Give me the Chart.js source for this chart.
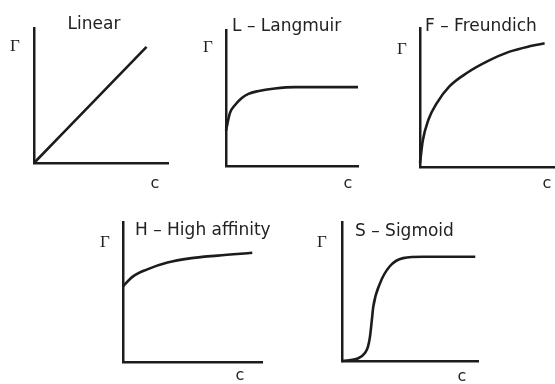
<!DOCTYPE html>
<html>
<head>
<meta charset="utf-8">
<script src="https://cdn.jsdelivr.net/npm/chart.js@4.4.1/dist/chart.umd.min.js"></script>
<style>
  body { margin: 0; width: 555px; height: 384px; overflow: hidden; background: #fff; position: relative; }
  canvas { position: absolute; left: 0; top: 0; }
</style>
</head>
<body>
<script>
// Isotherm shapes: concentration c vs adsorbed amount Γ (arbitrary units, 0-100)
const linearC = [0, 84];
const linearG = [0, 86];

const langmuirC = [0, 3, 7, 12, 17, 24, 37, 52, 75, 100];
const langmuirG = [26, 39, 45, 50, 53, 55, 57, 58, 58, 58];

const freundlichC = [0, 2, 6, 12, 21, 34, 48, 64, 79, 89];
const freundlichG = [3, 19, 34, 46, 58, 68, 76, 83, 87, 89];

const highC = [0, 7, 17, 32, 48, 68, 93];
const highG = [54, 61, 66, 71, 74, 76, 78];

const sigmoidC = [0, 12, 17, 19, 20.5, 22, 23, 28, 35, 45, 60, 98];
const sigmoidG = [0, 2, 6, 10, 17, 30, 39, 56, 68, 74, 75, 75];

const titles = ['Linear', 'L \u2013 Langmuir', 'F \u2013 Freundich', 'H \u2013 High affinity', 'S \u2013 Sigmoid'];

const W = 580, H = 384;
const ink = '#1c1c1c';

// axis box [left, top, right, bottom] and label anchors for each small plot
const panels = [
  { c: linearC, g: linearG, title: titles[0], box: [34, 28, 168, 163], titleAt: [94, 25, 'center'], gammaAt: [15, 47], cAt: [155, 184] },
  { c: langmuirC, g: langmuirG, title: titles[1], box: [226, 30, 358, 166], titleAt: [232, 27, 'left'], gammaAt: [208, 48], cAt: [348, 184] },
  { c: freundlichC, g: freundlichG, title: titles[2], box: [420, 28, 560, 167], titleAt: [425, 27, 'left'], gammaAt: [402, 50], cAt: [547, 184] },
  { c: highC, g: highG, title: titles[3], box: [123, 222, 262, 362], titleAt: [135, 231, 'left'], gammaAt: [105, 243], cAt: [240, 376] },
  { c: sigmoidC, g: sigmoidG, title: titles[4], box: [342, 222, 478, 361], titleAt: [355, 232, 'left'], gammaAt: [322, 243], cAt: [462, 377] }
];

const labelPlugin = {
  id: 'isoLabels',
  afterDraw(chart, args, opts) {
    const ctx = chart.ctx;
    ctx.save();
    ctx.fillStyle = '#222';
    ctx.textBaseline = 'middle';
    ctx.font = '17px "DejaVu Sans"';
    ctx.textAlign = opts.titleAt[2];
    ctx.fillText(opts.title, opts.titleAt[0], opts.titleAt[1]);
    ctx.textAlign = 'center';
    ctx.font = '17px "Liberation Serif"';
    ctx.fillText('\u0393', opts.gammaAt[0], opts.gammaAt[1]);
    ctx.font = '16px "DejaVu Sans"';
    ctx.fillText('c', opts.cAt[0], opts.cAt[1]);
    ctx.restore();
  }
};

panels.forEach(function (p) {
  const canvas = document.createElement('canvas');
  canvas.width = W;
  canvas.height = H;
  canvas.style.width = W + 'px';
  canvas.style.height = H + 'px';
  document.body.appendChild(canvas);

  const axis = {
    type: 'linear',
    min: 0,
    max: 100,
    grid: { display: false, drawTicks: false },
    ticks: { display: false },
    border: { display: true, color: ink, width: 2.5 }
  };

  new Chart(canvas.getContext('2d'), {
    type: 'line',
    data: {
      datasets: [{
        data: p.c.map((c, i) => ({ x: c, y: p.g[i] })),
        borderColor: ink,
        borderWidth: 2.6,
        pointRadius: 0,
        cubicInterpolationMode: 'monotone',
        clip: 6
      }]
    },
    options: {
      responsive: false,
      animation: false,
      events: [],
      layout: {
        padding: { left: p.box[0], top: p.box[1], right: W - p.box[2], bottom: H - p.box[3] }
      },
      scales: { x: axis, y: Object.assign({}, axis) },
      plugins: {
        legend: { display: false },
        tooltip: { enabled: false },
        isoLabels: { title: p.title, titleAt: p.titleAt, gammaAt: p.gammaAt, cAt: p.cAt }
      }
    },
    plugins: [labelPlugin]
  });
});
</script>
</body>
</html>
